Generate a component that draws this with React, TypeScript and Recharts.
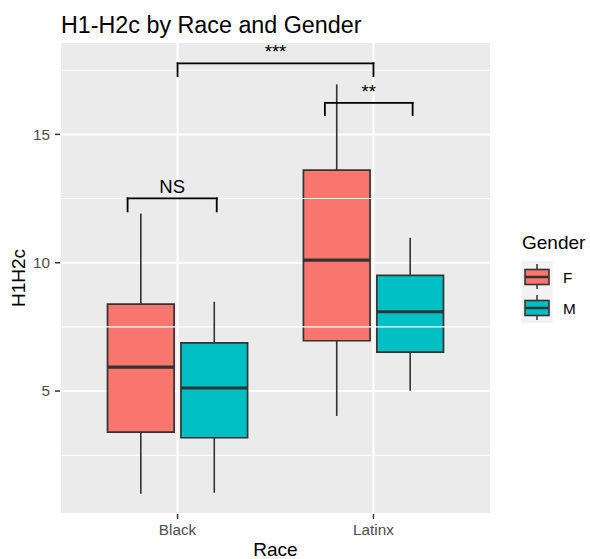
import React from 'react';
import {
  ComposedChart,
  XAxis,
  YAxis,
  CartesianGrid,
  ReferenceArea,
  ReferenceLine,
} from 'recharts';

const races = ['Black', 'Latinx'];
const genders = ['F', 'M'];
const genderColors = ['#F8766D', '#00BFC4'];

// box stats per race (Black, Latinx)
const lowF = [1.0, 4.03];
const q1F = [3.4, 6.96];
const medianF = [5.93, 10.1];
const q3F = [8.39, 13.61];
const highF = [11.92, 16.95];

const lowM = [1.04, 5.01];
const q1M = [3.18, 6.52];
const medianM = [5.12, 8.09];
const q3M = [6.88, 9.51];
const highM = [8.48, 10.97];

// significance brackets (x in race units, y in H1H2c units)
const bracketLabels = ['NS', '**', '***'];
const bracketFrom = [0.745, 1.752, 1];
const bracketTo = [1.2, 2.2, 2];
const bracketTop = [12.51, 16.23, 17.77];
const bracketTip = [12.0, 15.75, 17.27];

const yTicks = [5, 10, 15];
const yMinor = [2.5, 7.5, 12.5, 17.5];
const xTicks = [1, 2];

const DODGE = 0.1875;
const HALF = 0.17;
const FONT = '"Liberation Sans", Arial, Helvetica, sans-serif';

const stats = [
  { low: lowF, q1: q1F, med: medianF, q3: q3F, high: highF },
  { low: lowM, q1: q1M, med: medianM, q3: q3M, high: highM },
];

const boxes = races.flatMap((race, i) =>
  genders.map((g, j) => ({
    key: `${race}-${g}`,
    x: i + 1 + (j === 0 ? -DODGE : DODGE),
    color: genderColors[j],
    low: stats[j].low[i],
    q1: stats[j].q1[i],
    med: stats[j].med[i],
    q3: stats[j].q3[i],
    high: stats[j].high[i],
  })),
);

function LegendKey({ y, color }: { y: number; color: string }) {
  return (
    <g>
      <rect x={521.5} y={y} width={31} height={31} fill="#F2F2F2" />
      <line x1={537} x2={537} y1={y + 3} y2={y + 28} stroke="#333" strokeWidth={1.5} />
      <rect x={525} y={y + 8.5} width={24} height={15} fill={color} stroke="#333" strokeWidth={1.6} />
      <line x1={525} x2={549} y1={y + 16} y2={y + 16} stroke="#333" strokeWidth={2.5} />
    </g>
  );
}

export default function App() {
  return (
    <div style={{ position: 'absolute', left: 0, top: 0, width: 590, height: 559, fontFamily: FONT, background: '#fff' }}>
      <ComposedChart width={590} height={559} margin={{ top: 42, right: 99, bottom: 0, left: 0 }} data={boxes}>
        <CartesianGrid fill="#EBEBEB" stroke="#FFFFFF" strokeWidth={2} />
        <XAxis
          type="number"
          dataKey="x"
          domain={[0.4, 2.6]}
          allowDataOverflow
          ticks={xTicks}
          tickFormatter={(v: number) => races[v - 1]}
          height={45}
          axisLine={false}
          tickSize={5}
          tickMargin={5}
          tickLine={{ stroke: '#333', strokeWidth: 1.5 }}
          tick={{ fill: '#4D4D4D', fontSize: 15.3 }}
        />
        <YAxis
          type="number"
          domain={[0.21, 18.6]}
          allowDataOverflow
          ticks={yTicks}
          width={60}
          axisLine={false}
          tickSize={5}
          tickMargin={5}
          tickLine={{ stroke: '#333', strokeWidth: 1.5 }}
          tick={{ fill: '#4D4D4D', fontSize: 15.3 }}
        />

        {/* minor grid */}
        {yMinor.map((v) => (
          <ReferenceLine key={`minor-${v}`} y={v} stroke="#FFFFFF" strokeWidth={1.1} />
        ))}

        {boxes.map((b) => (
          <ReferenceLine
            key={`wl-${b.key}`}
            segment={[{ x: b.x, y: b.low }, { x: b.x, y: b.q1 }]}
            stroke="#333"
            strokeWidth={1.6}
          />
        ))}
        {boxes.map((b) => (
          <ReferenceLine
            key={`wh-${b.key}`}
            segment={[{ x: b.x, y: b.q3 }, { x: b.x, y: b.high }]}
            stroke="#333"
            strokeWidth={1.6}
          />
        ))}
        {boxes.map((b) => (
          <ReferenceArea
            key={`box-${b.key}`}
            x1={b.x - HALF}
            x2={b.x + HALF}
            y1={b.q1}
            y2={b.q3}
            fill={b.color}
            fillOpacity={1}
            stroke="#333"
            strokeWidth={1.7}
            ifOverflow="visible"
          />
        ))}
        {boxes.map((b) => (
          <ReferenceLine
            key={`med-${b.key}`}
            segment={[{ x: b.x - HALF, y: b.med }, { x: b.x + HALF, y: b.med }]}
            stroke="#333"
            strokeWidth={3.2}
          />
        ))}

        {/* significance brackets */}
        {bracketLabels.map((lab, i) => (
          <ReferenceLine
            key={`bl-${i}`}
            segment={[{ x: bracketFrom[i], y: bracketTip[i] }, { x: bracketFrom[i], y: bracketTop[i] }]}
            stroke="#000"
            strokeWidth={1.8}
            strokeLinecap="square"
          />
        ))}
        {bracketLabels.map((lab, i) => (
          <ReferenceLine
            key={`br-${i}`}
            segment={[{ x: bracketTo[i], y: bracketTip[i] }, { x: bracketTo[i], y: bracketTop[i] }]}
            stroke="#000"
            strokeWidth={1.8}
            strokeLinecap="square"
          />
        ))}
        {bracketLabels.map((lab, i) => (
          <ReferenceLine
            key={`bh-${i}`}
            segment={[{ x: bracketFrom[i], y: bracketTop[i] }, { x: bracketTo[i], y: bracketTop[i] }]}
            stroke="#000"
            strokeWidth={1.8}
            strokeLinecap="square"
            label={{ value: lab, position: 'top', offset: 5, fontSize: 18.5, fill: '#000' }}
          />
        ))}
      </ComposedChart>

      <svg
        width={590}
        height={559}
        style={{ position: 'absolute', left: 0, top: 0, pointerEvents: 'none' }}
        fontFamily={FONT}
      >
        <text x={61} y={33} fontSize={23.3} fill="#000">H1-H2c by Race and Gender</text>
        <text x={275.5} y={556} fontSize={19} fill="#000" textAnchor="middle">Race</text>
        <text x={25} y={278} fontSize={19} fill="#000" textAnchor="middle" transform="rotate(-90 25 278)">
          H1H2c
        </text>
        <text x={522} y={249} fontSize={19} fill="#000">Gender</text>
        <LegendKey y={261} color={genderColors[0]} />
        <LegendKey y={292} color={genderColors[1]} />
        <text x={563} y={283} fontSize={15.3} fill="#000">{genders[0]}</text>
        <text x={563} y={314} fontSize={15.3} fill="#000">{genders[1]}</text>
      </svg>
    </div>
  );
}
